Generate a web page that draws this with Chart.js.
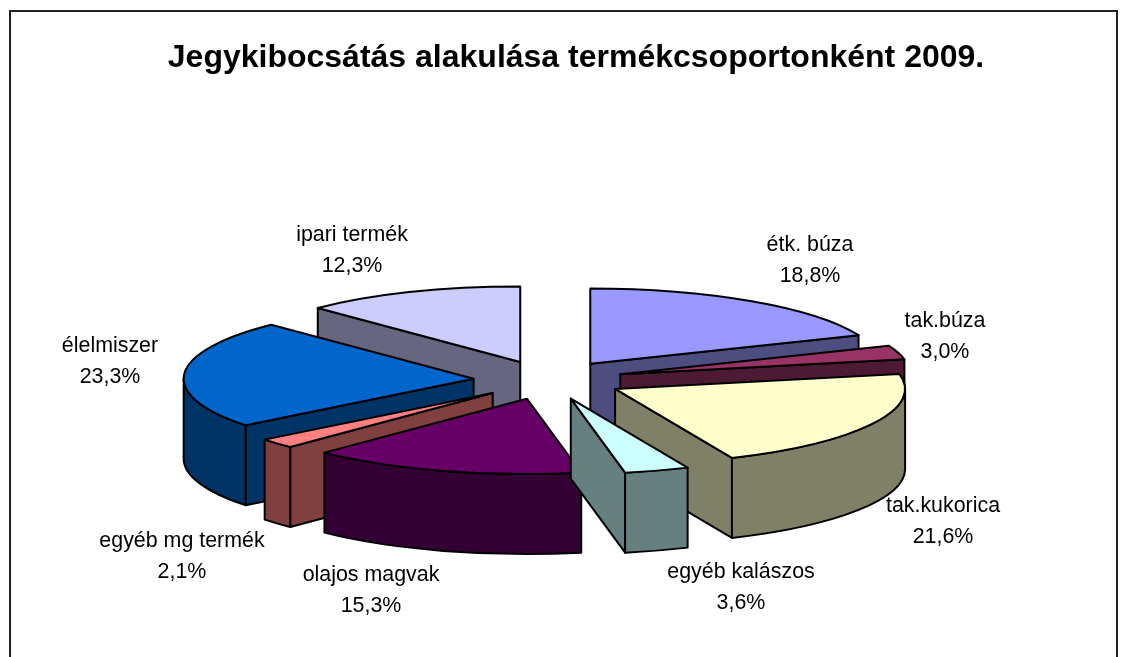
<!DOCTYPE html>
<html><head><meta charset="utf-8">
<style>html,body{margin:0;padding:0;background:#fff;overflow:hidden}canvas{display:block}</style>
<script src="https://cdn.jsdelivr.net/npm/chart.js@4"></script>
</head><body><canvas id="c" width="1127" height="657"></canvas>
<script>
const categories = ['étk. búza','tak.búza','tak.kukorica','egyéb kalászos','olajos magvak','egyéb mg termék','élelmiszer','ipari termék'];
const shares = [18.8,3.0,21.6,3.6,15.3,2.1,23.3,12.3];
const topColors = ['#9999FF','#993366','#FFFFCC','#CCFFFF','#660066','#FF8080','#0066CC','#CCCCFF'];
const wallColors = ['#4D4D80','#4D1A33','#808066','#668080','#330033','#804040','#003366','#666680'];
const paintOrder = [7,0,1,6,2,5,4,3];
const labelCenters = [[810,245],[945,321],[943,506],[741,572],[371,575],[182,541],[110,346],[352,235]];
const titleText = 'Jegykibocsátás alakulása termékcsoportonként 2009.';
const TILT = 0.26, DEPTH = 80, SHIFT_X = -27.5, EXPLODE = 75;

const tiltedPie = {
  id:'tiltedPie',
  beforeDraw(chart){
    const c = chart.ctx;
    c.save(); c.fillStyle='#fff'; c.fillRect(0,0,chart.width,chart.height);
    c.strokeStyle='#222'; c.lineWidth=2;
    c.beginPath(); c.moveTo(10,chart.height+5); c.lineTo(10,11); c.lineTo(1117,11); c.lineTo(1117,chart.height+5); c.stroke();
    c.restore();
  },
  beforeDatasetDraw(chart,args){
    const c = chart.ctx, arcs = chart.getDatasetMeta(args.index).data;
    c.save(); c.lineWidth=2; c.strokeStyle='#000'; c.lineJoin='round';
    paintOrder.forEach(i=>{
      const p = arcs[i].getProps(['x','y','startAngle','endAngle','outerRadius'],true);
      const mid=(p.startAngle+p.endAngle)/2, r=p.outerRadius;
      const ax=p.x+SHIFT_X+Math.cos(mid)*EXPLODE, ay=p.y+Math.sin(mid)*EXPLODE*TILT;
      const pt=a=>[ax+r*Math.cos(a), ay+r*Math.sin(a)*TILT];
      c.fillStyle=wallColors[i];
      [[p.startAngle,-1],[p.endAngle,1]].forEach(([a,s])=>{
        if(Math.cos(a)*s<=0) return;
        const [x,y]=pt(a);
        c.beginPath(); c.moveTo(ax,ay); c.lineTo(x,y); c.lineTo(x,y+DEPTH); c.lineTo(ax,ay+DEPTH); c.closePath(); c.fill(); c.stroke();
      });
      const a0=Math.max(p.startAngle,0), a1=Math.min(p.endAngle,Math.PI);
      if(a1>a0){
        c.beginPath(); c.ellipse(ax,ay,r,r*TILT,0,a0,a1);
        c.ellipse(ax,ay+DEPTH,r,r*TILT,0,a1,a0,true); c.closePath(); c.fill(); c.stroke();
      }
      c.fillStyle=topColors[i];
      c.beginPath(); c.moveTo(ax,ay); c.ellipse(ax,ay,r,r*TILT,0,p.startAngle,p.endAngle); c.closePath(); c.fill(); c.stroke();
    });
    c.restore();
    return false;
  },
  afterDatasetsDraw(chart){
    const c = chart.ctx;
    c.save(); c.fillStyle='#000'; c.font='21.4px "Liberation Sans", Arial, sans-serif'; c.textAlign='center'; c.textBaseline='middle';
    categories.forEach((n,i)=>{
      const [x,y]=labelCenters[i];
      c.fillText(n,x,y);
      c.fillText(shares[i].toFixed(1).replace('.',',')+'%',x,y+31);
    });
    c.restore();
  }
};

new Chart(document.getElementById('c'),{
  type:'pie',
  data:{labels:categories,datasets:[{data:shares,backgroundColor:topColors,borderColor:'#000',borderWidth:2,offset:EXPLODE*4}]},
  options:{
    responsive:false,animation:false,radius:290,
    layout:{padding:{left:25,right:0,top:0,bottom:0}},
    events:[],
    plugins:{
      legend:{display:false},tooltip:{enabled:false},
      title:{display:true,text:titleText,color:'#000',font:{family:'"Liberation Sans", Arial, sans-serif',size:32,weight:'bold',lineHeight:1.15},padding:{top:40,bottom:26.2}}
    }
  },
  plugins:[tiltedPie]
});
</script></body></html>
